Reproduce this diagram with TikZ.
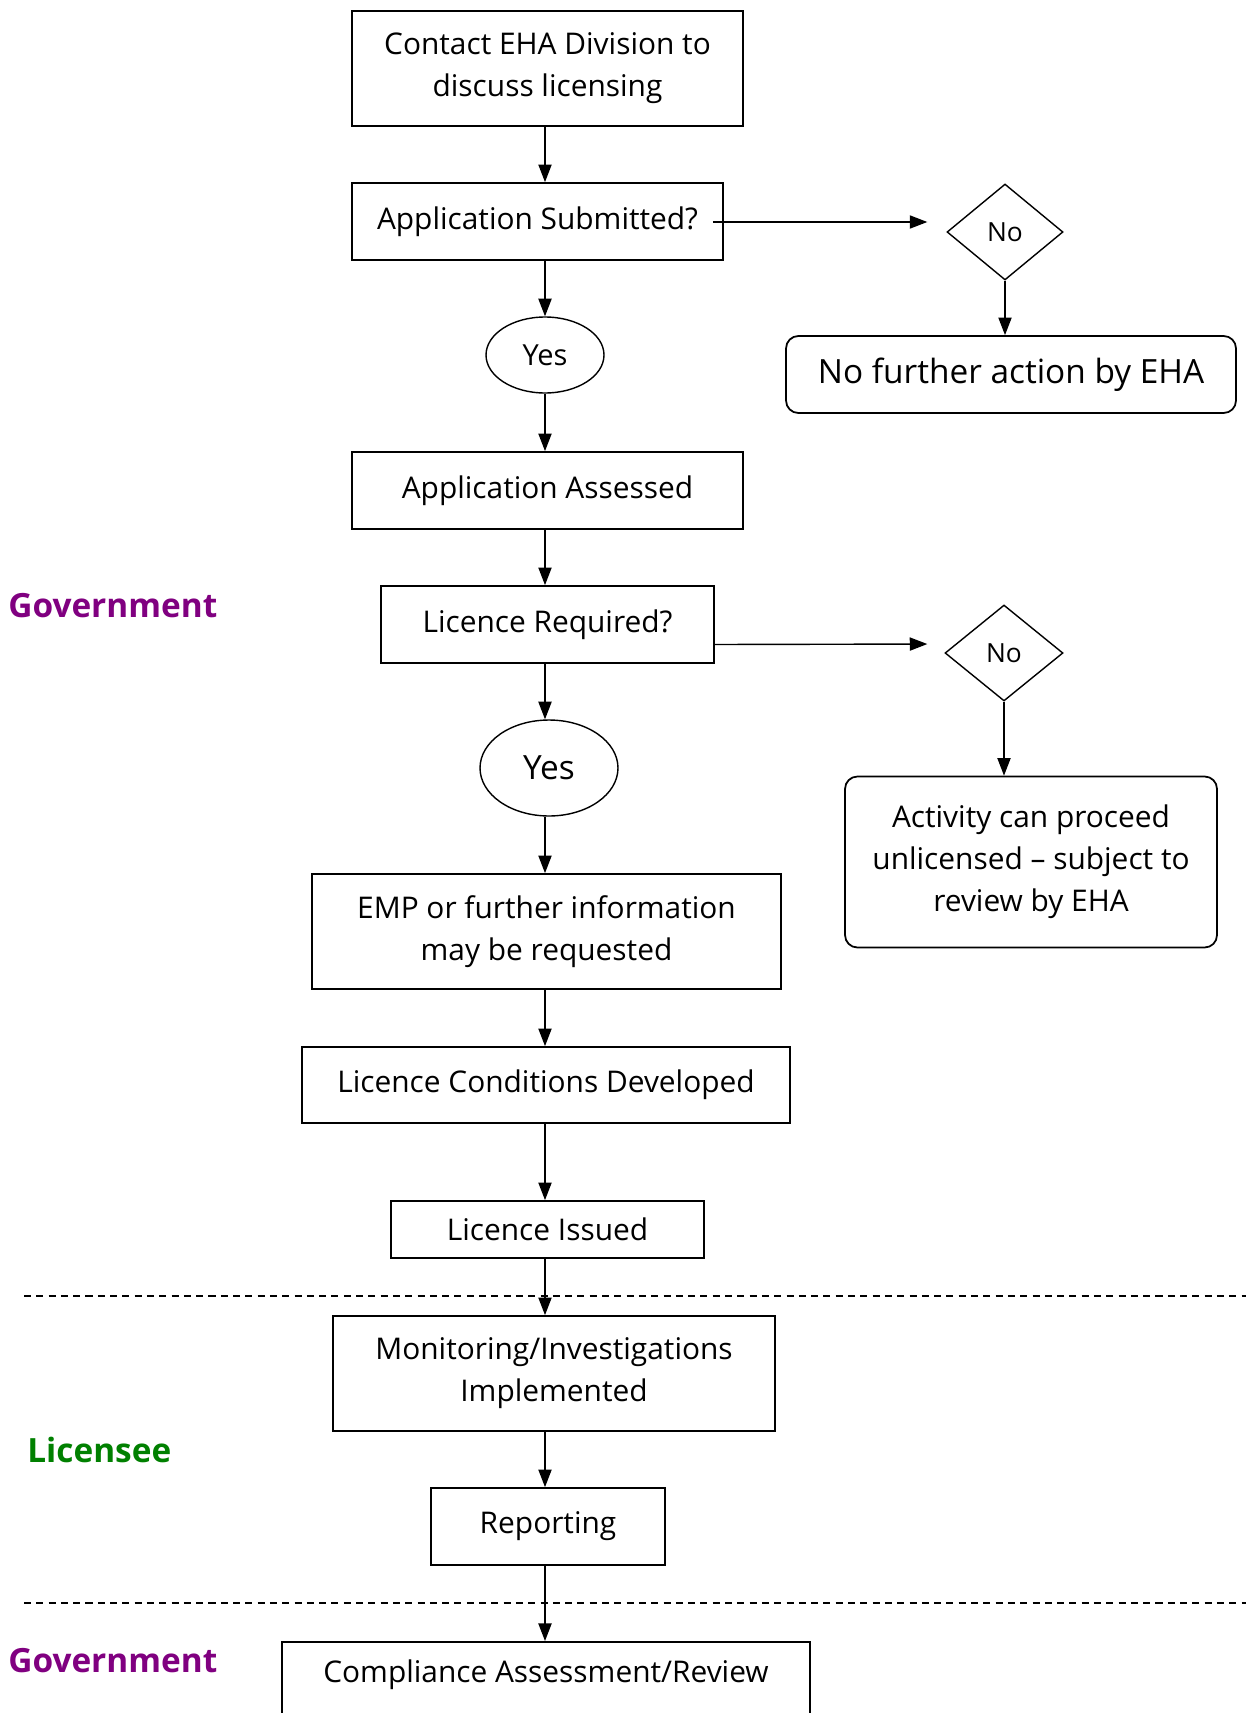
\documentclass[tikz,border=0pt]{standalone}
\usepackage{fontspec}
\setmainfont{Open Sans}
\usetikzlibrary{arrows.meta,shapes.geometric}

\definecolor{govcol}{RGB}{128,0,128}
\definecolor{liccol}{RGB}{0,128,0}

\begin{document}
\begin{tikzpicture}[x=0.02cm,y=-0.02cm,
    box/.style={draw,line width=1pt,align=center,inner sep=2pt,font=\fontsize{17}{24}\selectfont},
    outcome/.style={box,rounded corners=7pt},
    decision/.style={draw,line width=0.8pt,diamond,inner sep=0pt,font=\fontsize{15}{18}\selectfont},
    answer/.style={draw,line width=0.8pt,ellipse,inner sep=0pt,font=\fontsize{16.5}{18}\selectfont},
    flow/.style={line width=0.8pt,-{Triangle[length=10pt,width=7.5pt]}},
    lane/.style={line width=1pt,dash pattern=on 4pt off 3pt},
    party/.style={anchor=west,inner sep=0pt,font=\bfseries\fontsize{19}{22}\selectfont}]
    \useasboundingbox (0,0) rectangle (1246,1713);

    % main column
    \node[box,minimum width=7.82cm,minimum height=2.30cm] (contact) at (547.5,68.5) {Contact EHA Division to\\discuss licensing};
    \node[box,minimum width=7.42cm,minimum height=1.54cm] (submitted) at (537.5,221.5) {Application Submitted?};
    \node[answer,minimum width=2.36cm,minimum height=1.52cm] (yes1) at (545,355) {Yes};
    \node[box,minimum width=7.82cm,minimum height=1.54cm] (assessed) at (547.5,490.5) {Application Assessed};
    \node[box,minimum width=6.66cm,minimum height=1.54cm] (required) at (547.5,624.5) {Licence Required?};
    \node[answer,minimum width=2.76cm,minimum height=1.92cm,font=\fontsize{19}{21}\selectfont] (yes2) at (549,768) {Yes};
    \node[box,minimum width=9.38cm,minimum height=2.30cm] (emp) at (546.5,931.5) {EMP or further information\\may be requested};
    \node[box,minimum width=9.76cm,minimum height=1.52cm] (conditions) at (546,1085) {Licence Conditions Developed};
    \node[box,minimum width=6.26cm,minimum height=1.14cm] (issued) at (547.5,1229.5) {Licence Issued};
    \node[box,minimum width=8.84cm,minimum height=2.30cm] (monitoring) at (554,1373.5) {Monitoring/Investigations\\Implemented};
    \node[box,minimum width=4.68cm,minimum height=1.54cm] (reporting) at (548,1526.5) {Reporting};
    \node[box,anchor=north,minimum width=10.56cm,text height=17pt,text depth=44pt,inner ysep=6pt] (compliance) at (546,1641) {Compliance Assessment/Review};

    % side branches
    \node[decision,minimum width=2.32cm,minimum height=1.92cm] (no1) at (1005,232) {No};
    \node[outcome,minimum width=9.0cm,minimum height=1.54cm,font=\fontsize{19}{22}\selectfont] (nfa) at (1011,374.5) {No further action by EHA};
    \node[decision,minimum width=2.36cm,minimum height=1.92cm] (no2) at (1004,653) {No};
    \node[outcome,minimum width=7.44cm,minimum height=3.42cm] (activity) at (1031,862) {Activity can proceed\\unlicensed -- subject to\\review by EHA};

    % parties
    \node[party,text=govcol] (gov1) at (8,606) {Government};
    \node[party,text=liccol] (lic) at (27,1450) {Licensee};
    \node[party,text=govcol] (gov2) at (8,1661) {Government};

    % lane separators
    \coordinate (sepA) at (24,1296);
    \coordinate (sepB) at (24,1603);
    \draw[lane] (sepA) -- (1246,1296);
    \draw[lane] (sepB) -- (1246,1603);

    % connectors
    \draw[flow] (yes1 |- contact.south) -- (yes1 |- submitted.north);
    \draw[flow] (yes1 |- submitted.south) -- (yes1.north);
    \draw[flow] (yes1.south) -- (yes1 |- assessed.north);
    \draw[flow] (yes1 |- assessed.south) -- (yes1 |- required.north);
    \draw[flow] (yes1 |- required.south) -- (yes1 |- yes2.north);
    \draw[flow] (yes1 |- yes2.south) -- (yes1 |- emp.north);
    \draw[flow] (yes1 |- emp.south) -- (yes1 |- conditions.north);
    \draw[flow] (yes1 |- conditions.south) -- (yes1 |- issued.north);
    \draw[flow] (yes1 |- issued.south) -- (yes1 |- monitoring.north);
    \draw[flow] (yes1 |- monitoring.south) -- (yes1 |- reporting.north);
    \draw[flow] (yes1 |- reporting.south) -- (yes1 |- compliance.north);
    \draw[flow,shorten <=-0.22cm,shorten >=0.38cm] ([yshift=0.2cm]submitted.east |- no1) -- ([yshift=0.2cm]no1.west);
    \draw[flow] (no1.south) -- (no1.south |- nfa.north);
    \draw[flow,shorten >=0.34cm] ([yshift=-0.4cm]required.east) -- ([yshift=0.18cm]no2.west);
    \draw[flow] (no2.south) -- (no2.south |- activity.north);
\end{tikzpicture}
\end{document}
